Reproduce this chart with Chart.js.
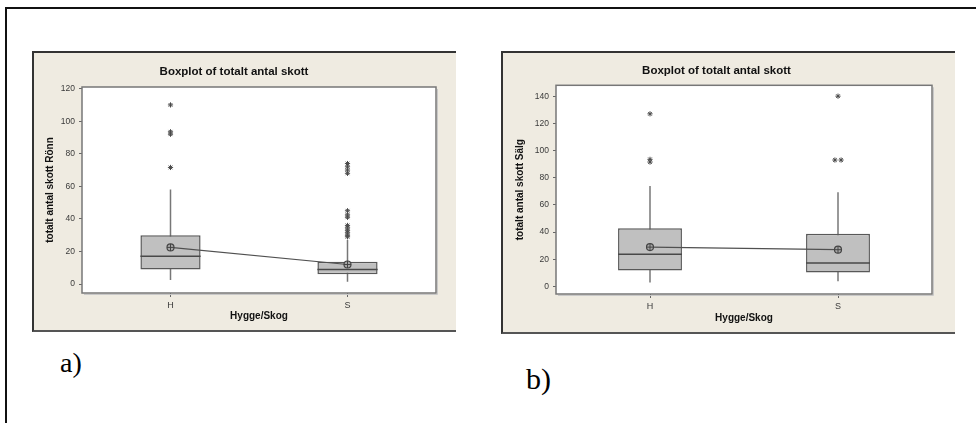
<!DOCTYPE html>
<html>
<head>
<meta charset="utf-8">
<script src="https://cdn.jsdelivr.net/npm/chart.js@4.4.0/dist/chart.umd.min.js"></script>
<style>
  body { margin: 0; width: 976px; height: 423px; background: #fff; position: relative; overflow: hidden; }
  .rule-top { position: absolute; left: 5px; top: 7px; width: 971px; height: 2px; background: #111; }
  .rule-left { position: absolute; left: 5px; top: 7px; width: 2px; height: 416px; background: #111; }
  .panel { position: absolute; background: #efebe1; box-sizing: border-box;
           border-top: 2px solid #333; border-left: 2px solid #333; border-bottom: 2px solid #555; }
  .panel canvas { position: absolute; left: -2px; top: -2px; }
  .tag { position: absolute; font-family: "Liberation Serif", "Times New Roman", serif; line-height: 1; color: #000; }
</style>
</head>
<body>
<div class="rule-top"></div>
<div class="rule-left"></div>

<div class="panel" style="left:32px; top:51px; width:424px; height:281px;">
  <canvas id="ronnChart" width="424" height="281"></canvas>
</div>
<div class="panel" style="left:501px; top:51px; width:454px; height:283px;">
  <canvas id="salgChart" width="454" height="283"></canvas>
</div>

<div class="tag" style="left:60px; top:349px; font-size:28px;">a)</div>
<div class="tag" style="left:526px; top:364px; font-size:30px;">b)</div>

<script>
const categories = ['H', 'S'];
const catPos = [1, 2];

// a) totalt antal skott Rönn
const ronnLow = [2.5, 1.4];
const ronnQ1 = [9, 6];
const ronnMedian = [17, 9];
const ronnQ3 = [30, 13.7];
const ronnHigh = [58, 27];
const ronnMean = [22.5, 12];
const ronnOutliers = [
  [110, 93.5, 92, 71.6],
  [74, 72, 70, 68, 45, 42.5, 41, 36, 34.5, 33, 31.5, 30, 29]
];
const ronnTicks = [0, 20, 40, 60, 80, 100, 120];
const ronnRange = [-5.5, 121];

// b) totalt antal skott Sälg
const salgLow = [2.9, 3.7];
const salgQ1 = [11.7, 10.3];
const salgMedian = [23.6, 17.2];
const salgQ3 = [42.8, 38.8];
const salgHigh = [73.8, 69.3];
const salgMean = [28.9, 27];
const salgOutliers = [
  [127, 93.5, 91.5],
  [140, 93, 93]
];
const salgTicks = [0, 20, 40, 60, 80, 100, 120, 140];
const salgRange = [-5.6, 148];

const boxWidth = 0.34;   // in category units
const sans = '"Liberation Sans", Arial, sans-serif';

// white plot area with a grey frame, like Minitab
const plotFrame = {
  id: 'plotFrame',
  beforeDraw(chart) {
    const { ctx, chartArea: a } = chart;
    ctx.save();
    ctx.fillStyle = '#fff';
    ctx.fillRect(a.left, a.top, a.width, a.height);
    ctx.restore();
  },
  afterDraw(chart) {
    const { ctx, chartArea: a } = chart;
    ctx.save();
    ctx.strokeStyle = '#c8c8c8';
    ctx.lineWidth = 1;
    ctx.beginPath();
    ctx.moveTo(a.right + 1.5, a.top + 2);
    ctx.lineTo(a.right + 1.5, a.bottom + 1.5);
    ctx.lineTo(a.left + 2, a.bottom + 1.5);
    ctx.stroke();
    ctx.strokeStyle = '#777';
    ctx.lineWidth = 1.5;
    ctx.strokeRect(a.left, a.top, a.width, a.height);
    ctx.restore();
  }
};

function boxChart(id, d) {
  const hw = boxWidth / 2;
  const gap = { x: 1.5, y: null };
  const boxes = [], whiskers = [], medians = [], means = [], outliers = [];

  catPos.forEach((p, i) => {
    boxes.push({ x: p, y: [d.q1[i], d.q3[i]] });
    whiskers.push({ x: p, y: d.low[i] }, { x: p, y: d.high[i] }, gap);
    medians.push({ x: p - hw, y: d.median[i] }, { x: p + hw, y: d.median[i] }, gap);
    means.push({ x: p, y: d.mean[i] });
    // equal values are put side by side
    const seen = {};
    d.outliers[i].forEach(v => {
      const n = d.outliers[i].filter(w => w === v).length;
      const k = seen[v] = (seen[v] || 0) + 1;
      outliers.push({ x: p + (k - (n + 1) / 2) * 0.033, y: v });
    });
  });

  return new Chart(document.getElementById(id), {
    type: 'bar',
    data: {
      datasets: [
        { type: 'line', data: whiskers, borderColor: '#777', borderWidth: 1.5, pointRadius: 0, order: 5 },
        { type: 'bar', data: boxes, backgroundColor: '#c0c0c0', borderColor: '#585858', borderWidth: 1.5,
          borderSkipped: false, categoryPercentage: 1, barPercentage: boxWidth, order: 4 },
        { type: 'line', data: medians, borderColor: '#484848', borderWidth: 1.5, pointRadius: 0, order: 3 },
        { type: 'line', data: outliers, showLine: false, pointStyle: 'star', pointRadius: 2.6,
          borderColor: '#4a4a4a', borderWidth: 1, order: 2 },
        { type: 'line', data: means, borderColor: '#505050', borderWidth: 1.2, pointStyle: 'circle',
          pointRadius: 3.5, pointBackgroundColor: '#a8a8a8', pointBorderColor: '#444', pointBorderWidth: 1.2, order: 1 },
        { type: 'line', data: means, showLine: false, pointStyle: 'cross', pointRadius: 3.5,
          borderColor: '#444', borderWidth: 1, order: 0 }
      ]
    },
    options: {
      responsive: false,
      animation: false,
      layout: { padding: { right: d.padRight } },
      plugins: {
        legend: { display: false },
        tooltip: { enabled: false },
        title: {
          display: true,
          text: 'Boxplot of totalt antal skott',
          color: '#111',
          font: { family: sans, size: 11.5, weight: 'bold' },
          padding: { top: d.titleTop, bottom: d.titleBottom }
        }
      },
      scales: {
        x: {
          type: 'linear',
          min: 0.5,
          max: 2.5,
          offset: false,
          afterBuildTicks: s => { s.ticks = catPos.map(v => ({ value: v })); },
          afterFit: s => { s.height = d.xHeight; },
          ticks: { callback: (v, i) => categories[i], color: '#3a3a3a', font: { family: sans, size: 9 },
                   padding: 3, maxRotation: 0, autoSkip: false },
          grid: { offset: false, drawOnChartArea: false, tickLength: 4, color: '#666' },
          border: { display: false },
          title: { display: true, text: 'Hygge/Skog', color: '#111',
                   font: { family: sans, size: 10, weight: 'bold' }, padding: { top: 0, bottom: 10 } }
        },
        y: {
          min: d.range[0],
          max: d.range[1],
          afterBuildTicks: s => { s.ticks = d.ticks.map(v => ({ value: v })); },
          afterFit: s => { s.width = d.yWidth; },
          ticks: { color: '#3a3a3a', font: { family: sans, size: 8.5 }, padding: 4 },
          grid: { drawOnChartArea: false, tickLength: 3, color: '#666' },
          border: { display: false },
          title: { display: true, text: d.yTitle, color: '#111',
                   font: { family: sans, size: 10, weight: 'bold' }, padding: { top: d.yTitlePad, bottom: 0 } }
        }
      }
    },
    plugins: [plotFrame]
  });
}

boxChart('ronnChart', {
  low: ronnLow, q1: ronnQ1, median: ronnMedian, q3: ronnQ3, high: ronnHigh, mean: ronnMean,
  outliers: ronnOutliers, ticks: ronnTicks, range: ronnRange,
  yTitle: 'totalt antal skott Rönn',
  padRight: 20, titleTop: 14.1, titleBottom: 8.1, xHeight: 39, yWidth: 50, yTitlePad: 12
});

boxChart('salgChart', {
  low: salgLow, q1: salgQ1, median: salgMedian, q3: salgQ3, high: salgHigh, mean: salgMean,
  outliers: salgOutliers, ticks: salgTicks, range: salgRange,
  yTitle: 'totalt antal skott Sälg',
  padRight: 23, titleTop: 13.1, titleBottom: 7.4, xHeight: 40, yWidth: 55, yTitlePad: 13.5
});
</script>
</body>
</html>
